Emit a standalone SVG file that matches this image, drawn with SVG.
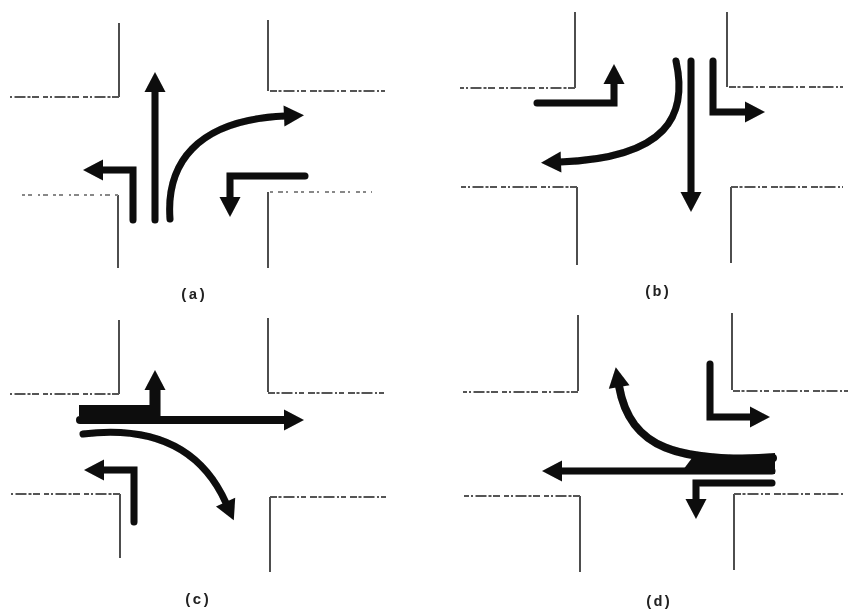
<svg xmlns="http://www.w3.org/2000/svg" width="848" height="611" viewBox="0 0 848 611">
<style>
.v{fill:none;stroke:#222;stroke-width:1.6}
.h{fill:none;stroke:#555;stroke-width:2.2;stroke-dasharray:7 1.5 3 2 11 2.500 2 2 5 4}
.f{stroke:#888;stroke-width:2;stroke-dasharray:3 5 5 3 2 6 4 3}
.a{fill:none;stroke:#0a0a0a;stroke-width:7;stroke-linecap:round;stroke-linejoin:miter;marker-end:url(#head)}
.l{font-family:"Liberation Mono",monospace;font-weight:bold;font-size:15px;fill:#222;text-anchor:middle}
</style>
<defs>
<marker id="head" markerUnits="userSpaceOnUse" markerWidth="24" markerHeight="26" viewBox="0 0 24 26" refX="3" refY="13" orient="auto">
<path d="M2 2.500L22 13L2 23.500z" fill="#0a0a0a"/>
</marker>
<filter id="soft" x="-5%" y="-5%" width="110%" height="110%"><feGaussianBlur stdDeviation="0.7"/></filter>
</defs>
<rect width="848" height="611" fill="#fff"/>
<g filter="url(#soft)">
<g id="panel-a">
<path class="v" d="M119 23V97"/><path class="v" d="M268 20V91"/><path class="v" d="M118 195V268"/><path class="v" d="M268 192V268"/>
<path class="h" d="M119 97H10"/><path class="h" d="M270 91H385"/><path class="h f" d="M118 195H20"/><path class="h f" d="M270 192H372"/>
<text class="l" x="193" y="299">(a)</text>
</g>
<g id="panel-b">
<path class="v" d="M575 12V88"/><path class="v" d="M727 12V87"/><path class="v" d="M577 187V265"/><path class="v" d="M731 187V263"/>
<path class="h" d="M575 88H460"/><path class="h" d="M729 87H843"/><path class="h" d="M577 187H460"/><path class="h" d="M731 187H843"/>
<text class="l" x="657" y="296">(b)</text>
</g>
<g id="panel-c">
<path class="v" d="M119 320V394"/><path class="v" d="M268 318V392"/><path class="v" d="M120 494V558"/><path class="v" d="M270 497V572"/>
<path class="h" d="M119 394H10"/><path class="h" d="M268 393H388"/><path class="h" d="M120 494H10"/><path class="h" d="M270 497H387"/>
<text class="l" x="197" y="604">(c)</text>
</g>
<g id="panel-d">
<path class="v" d="M578 315V391"/><path class="v" d="M732 313V390"/><path class="v" d="M580 496V572"/><path class="v" d="M734 494V570"/>
<path class="h" d="M578 392H463"/><path class="h" d="M733 391H848"/><path class="h" d="M580 496H463"/><path class="h" d="M734 494H845"/>
<text class="l" x="658" y="606">(d)</text>
</g>
<g id="connectors">
<path class="a" d="M155 220V91"/>
<path class="a" d="M133 220V170H102"/>
<path class="a" d="M170 219C166 165 195 120 285 116"/>
<path class="a" d="M305 176H230V198"/>
<path class="a" d="M537 103H614V83"/>
<path class="a" d="M676 61C688 115 668 158 560 162"/>
<path class="a" d="M691 61V193"/>
<path class="a" d="M713 61V112H746"/>
<path class="a" style="stroke-width:11;stroke-linecap:butt" d="M79 410.500H155V389"/>
<path class="a" style="stroke-width:8" d="M80 420H285"/>
<path class="a" d="M83 434C150 426 200 445 226 503"/>
<path class="a" d="M134 522V470H103"/>
<path class="a" d="M772 471H561"/>
<path class="a" style="stroke-width:8" d="M773 458C680 462 630 450 619 386"/>
<path d="M775 453V474H680L692 458Z" fill="#0a0a0a"/>
<path class="a" d="M710 364V417H751"/>
<path class="a" d="M772 483H696V500"/>
</g>
</g>
</svg>
